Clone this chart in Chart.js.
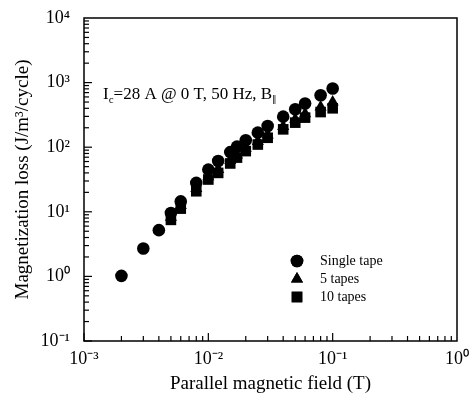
<!DOCTYPE html>
<html>
<head>
<meta charset="utf-8">
<script src="https://cdn.jsdelivr.net/npm/chart.js@4.4.1/dist/chart.umd.min.js"></script>
<style>
html,body{margin:0;padding:0;background:#fff;}
#wrap{width:473px;height:400px;}
</style>
</head>
<body>
<div id="wrap"><canvas id="c" width="473" height="400"></canvas></div>
<script>
// ---- data ----
const fieldSingle = [0.002,0.003,0.004,0.005,0.006,0.008,0.01,0.012,0.015,0.017,0.02,0.025,0.03,0.04,0.05,0.06,0.08,0.1];
const lossSingle  = [1.02,2.7,5.2,9.6,14.5,28,45,61,84,102,128,168,213,297,386,475,637,809];
const fieldTapes  = [0.005,0.006,0.008,0.01,0.012,0.015,0.017,0.02,0.025,0.03,0.04,0.05,0.06,0.08,0.1];
const loss5Tapes  = [8.2,12.5,23,35,45,62,76,96,122,155,210,270,330,420,500];
const loss10Tapes = [7.5,11.2,20.8,31.6,40,56,69,87,110,140,189,240,287,350,400];
const xTickValues = [0.001,0.01,0.1,1];
const yTickValues = [0.1,1,10,100,1000,10000];
const seriesNames = ['Single tape','5 tapes','10 tapes'];
const annotationMain = ['I','c','=28 A @ 0 T, 50 Hz, B','\u2225'];

const sup = {'-':'\u207B','0':'\u2070','1':'\u00B9','2':'\u00B2','3':'\u00B3','4':'\u2074','5':'\u2075','6':'\u2076','7':'\u2077','8':'\u2078','9':'\u2079'};
function powLabel(v){
  const e = Math.round(Math.log10(v));
  return '10' + String(e).split('').map(ch => sup[ch]).join('');
}
const pts = (xs, ys) => xs.map((x,i)=>({x:x,y:ys[i]}));
const SERIF = '"Liberation Serif","Times New Roman",serif';
function zeroPad(s){ s.paddingTop = 0; s.paddingBottom = 0; s.paddingLeft = 0; s.paddingRight = 0; }

const framePlugin = {
  id:'frame',
  afterDraw(chart){
    const {ctx, chartArea:a, scales} = chart;
    ctx.save();
    ctx.strokeStyle = '#000';
    ctx.lineWidth = 1.5;
    ctx.strokeRect(a.left, a.top, a.right-a.left, a.bottom-a.top);
    ctx.lineWidth = 1.2;
    // inward ticks
    const xs = scales.x, ys = scales.y;
    for(let d=Math.floor(Math.log10(xs.min)); d<Math.log10(xs.max); d++){
      for(let k=1;k<=9;k++){
        const v = k*Math.pow(10,d);
        if(v<xs.min-1e-12||v>xs.max+1e-12) continue;
        const px = xs.getPixelForValue(v);
        const len = k===1?8:5;
        ctx.beginPath(); ctx.moveTo(px,a.bottom); ctx.lineTo(px,a.bottom-len); ctx.stroke();
      }
    }
    for(let d=Math.floor(Math.log10(ys.min)); d<Math.log10(ys.max); d++){
      for(let k=1;k<=9;k++){
        const v = k*Math.pow(10,d);
        if(v<ys.min-1e-12||v>ys.max+1e-12) continue;
        const py = ys.getPixelForValue(v);
        const len = k===1?8:5;
        ctx.beginPath(); ctx.moveTo(a.left,py); ctx.lineTo(a.left+len,py); ctx.stroke();
      }
    }
    // annotation text
    ctx.fillStyle = '#000';
    ctx.textBaseline = 'alphabetic';
    ctx.textAlign = 'left';
    let tx = a.left + 19, ty = a.top + 81;
    ctx.font = '17px ' + SERIF;
    ctx.fillText(annotationMain[0], tx, ty); tx += ctx.measureText(annotationMain[0]).width;
    ctx.font = '11px ' + SERIF;
    ctx.fillText(annotationMain[1], tx, ty+4); tx += ctx.measureText(annotationMain[1]).width;
    ctx.font = '17px ' + SERIF;
    ctx.fillText(annotationMain[2], tx, ty); tx += ctx.measureText(annotationMain[2]).width;
    ctx.font = '9px ' + SERIF;
    ctx.fillText(annotationMain[3], tx, ty+3);
    // legend
    const lx = a.left + 213, ly0 = a.top + 243, dy = 18;
    chart.data.datasets.forEach((ds,i)=>{
      const y = ly0 + i*dy;
      Chart.helpers.drawPoint(ctx, {pointStyle: ds.pointStyle, radius: ds.pointRadius, borderWidth:0}, lx, y);
      ctx.fillStyle = '#000';
      ctx.fill();
      ctx.font = '14px ' + SERIF;
      ctx.textBaseline = 'middle';
      ctx.fillText(ds.label, lx + 23, y);
    });
    ctx.restore();
  }
};

new Chart(document.getElementById('c'), {
  type:'scatter',
  data:{
    datasets:[
      {label:seriesNames[0], data:pts(fieldSingle,lossSingle), pointStyle:'circle', pointRadius:6.3, backgroundColor:'#000', borderColor:'#000', borderWidth:0},
      {label:seriesNames[1], data:pts(fieldTapes,loss5Tapes), pointStyle:'triangle', pointRadius:7, backgroundColor:'#000', borderColor:'#000', borderWidth:0},
      {label:seriesNames[2], data:pts(fieldTapes,loss10Tapes), pointStyle:'rect', pointRadius:7.5, backgroundColor:'#000', borderColor:'#000', borderWidth:0}
    ]
  },
  options:{
    responsive:false,
    animation:false,
    events:[],
    layout:{padding:{top:18,right:16,left:0,bottom:0}},
    plugins:{legend:{display:false}, tooltip:{enabled:false}},
    scales:{
      x:{
        type:'logarithmic', min:0.001, max:1,
        afterBuildTicks(s){ s.ticks = xTickValues.map(v=>({value:v})); },
        afterFit(s){ s.height = 59; zeroPad(s); },
        grid:{display:false, drawTicks:false},
        border:{display:false},
        ticks:{callback:(v)=>powLabel(v), color:'#000', font:{family:SERIF,size:18}, padding:7, maxRotation:0, autoSkip:false},
        title:{display:true, text:'Parallel magnetic field (T)', color:'#000', font:{family:SERIF,size:19}, padding:{top:0,bottom:5}}
      },
      y:{
        type:'logarithmic', min:0.1, max:10000,
        afterBuildTicks(s){ s.ticks = yTickValues.map(v=>({value:v})); },
        afterFit(s){ s.width = 84; zeroPad(s); },
        grid:{display:false, drawTicks:false},
        border:{display:false},
        ticks:{callback:(v)=>powLabel(v), color:'#000', font:{family:SERIF,size:18}, padding:14, autoSkip:false},
        title:{display:true, text:'Magnetization loss (J/m\u00B3/cycle)', color:'#000', font:{family:SERIF,size:19}, padding:{top:12,bottom:0}}
      }
    }
  },
  plugins:[framePlugin]
});
</script>
</body>
</html>
